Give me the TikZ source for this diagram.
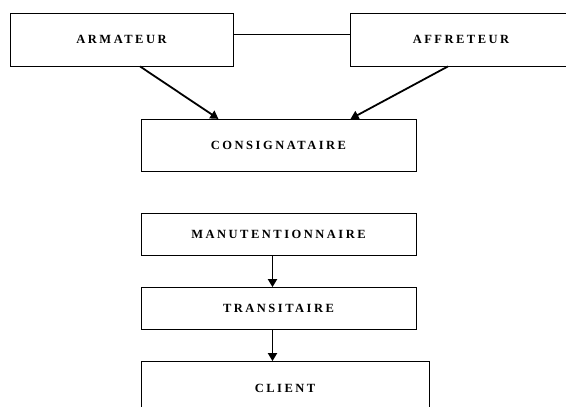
\documentclass[tikz,border=0pt]{standalone}
\usepackage{fontspec}
\usetikzlibrary{arrows.meta}
\newfontfamily\lblfont{Liberation Serif}[LetterSpace=20]
\tikzset{
  box/.style={draw=black, line width=0.8pt, rectangle, inner sep=0pt, anchor=center,
    font=\lblfont\bfseries\fontsize{12.5}{14}\selectfont},
  thin link/.style={draw=black, line width=0.8pt},
  flow/.style={draw=black, line width=1.8pt, -{Triangle[length=8pt,width=9pt]}, shorten >=-0.5pt}
}
\begin{document}
\begin{tikzpicture}[x=1pt,y=-1pt]
\useasboundingbox[fill=white] (0,0) rectangle (566,407);
\node[box, minimum width=223pt, minimum height=53pt] (arm) at (121.5,39.5) {ARMATEUR};
\node[box, minimum width=221pt, minimum height=53pt] (aff) at (461,39.5) {AFFRETEUR};
\node[box, minimum width=275pt, minimum height=52pt] (cons) at (278.5,145) {CONSIGNATAIRE};
\node[box, minimum width=275pt, minimum height=42pt] (man) at (278.5,234) {MANUTENTIONNAIRE};
\node[box, minimum width=275pt, minimum height=42pt] (tra) at (278.5,308) {TRANSITAIRE};
\node[box, minimum width=288pt, minimum height=54pt] (cli) at (285,388) {CLIENT};
\draw[thin link] ([yshift=5.5pt]arm.east) -- ([yshift=5.5pt]aff.west);
\draw[flow] ([xshift=18.5pt]arm.south) -- ([xshift=-60.5pt]cons.north);
\draw[flow] ([xshift=-13pt]aff.south) -- ([xshift=72.5pt]cons.north);
\draw[flow] ([xshift=-6pt]man.south) -- ([xshift=-6pt]tra.north);
\draw[flow] ([xshift=-6pt]tra.south) -- ([xshift=-6pt]tra.south |- cli.north);
\end{tikzpicture}
\end{document}
